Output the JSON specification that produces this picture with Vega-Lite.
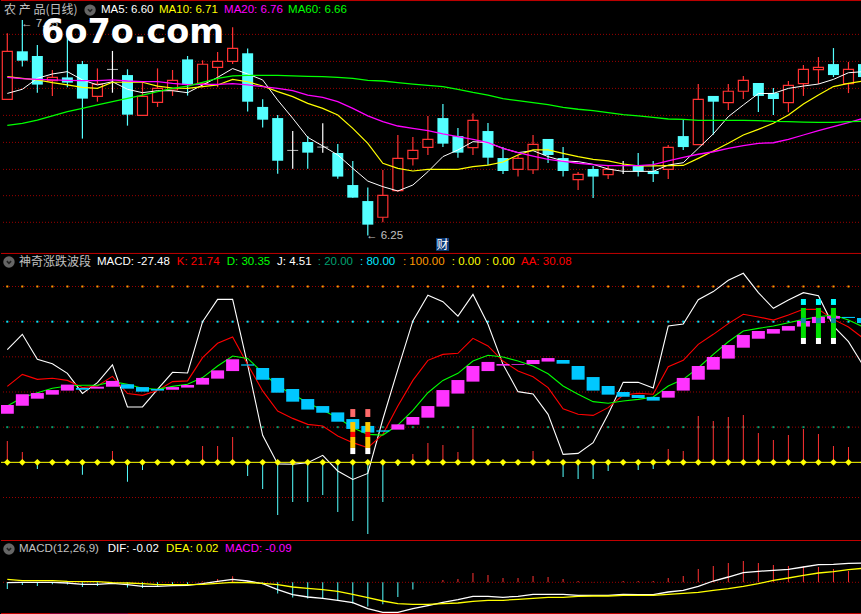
{"$schema":"https://vega.github.io/schema/vega-lite/v6.json","background":"#000000","padding":0,"spacing":0,"autosize":{"type":"pad"},
"resolve":{"scale":{"fill":"independent","stroke":"independent"}},
"config":{"view":{"stroke":null},"axis":{"disable":true},"legend":{"disable":true},"text":{"font":"Liberation Sans","fontSize":11.5,"align":"left","baseline":"middle"}},
"datasets":{
"days":[
{"i":0,"t":"up","o":7.008,"h":7.375,"l":7.008,"c":7.275,"m5":7.041,"m10":7.134,"m20":7.130,"m60":6.864,"J":64.1,"K":43.2,"D":32.0,"a":27.7,"b":32.6,"s":12.1,"dif":-0.003,"dea":0.03,"macd":-0.067},
{"i":1,"t":"down","o":7.275,"h":7.449,"l":7.190,"c":7.223,"m5":7.064,"m10":7.125,"m20":7.123,"m60":6.875,"J":72.8,"K":50.0,"D":36.8,"a":32.2,"b":38.7,"s":5.9,"dif":0,"dea":0.017,"macd":-0.027},
{"i":2,"t":"down","o":7.249,"h":7.310,"l":7.045,"c":7.090,"m5":7.125,"m10":7.116,"m20":7.119,"m60":6.893,"J":58.6,"K":47.2,"D":39.6,"a":36.2,"b":39.4,"s":-3.8,"dif":0,"dea":0.017,"macd":-0.037},
{"i":3,"t":"up","o":7.112,"h":7.171,"l":7.027,"c":7.130,"m5":7.149,"m10":7.101,"m20":7.116,"m60":6.916,"J":56.1,"K":47.8,"D":42.1,"a":38.5,"b":41.1,"s":0,"dif":0,"dea":0.017,"macd":-0.02},
{"i":4,"t":"down","o":7.130,"h":7.380,"l":7.075,"c":7.101,"m5":7.162,"m10":7.088,"m20":7.114,"m60":6.940,"J":50.6,"K":46.6,"D":43.4,"a":40.8,"b":44.2,"s":0,"dif":-0.007,"dea":0.01,"macd":-0.023},
{"i":5,"t":"down","o":7.204,"h":7.221,"l":6.790,"c":7.012,"m5":7.116,"m10":7.075,"m20":7.112,"m60":6.958,"J":39.2,"K":42.5,"D":43.8,"a":42.3,"b":41.3,"s":-7.0,"dif":-0.02,"dea":0.007,"macd":-0.047},
{"i":6,"t":"up","o":7.025,"h":7.180,"l":6.995,"c":7.093,"m5":7.088,"m10":7.069,"m20":7.112,"m60":6.977,"J":45.3,"K":43.4,"D":43.8,"a":41.9,"b":43.0,"s":0,"dif":-0.02,"dea":0.007,"macd":-0.037},
{"i":7,"t":"doji","o":7.177,"h":7.277,"l":7.045,"c":7.173,"m5":7.106,"m10":7.103,"m20":7.116,"m60":6.995,"J":55.4,"K":48.9,"D":45.9,"a":43.0,"b":46.3,"s":6.4,"dif":-0.01,"dea":-0.003,"macd":0},
{"i":8,"t":"down","o":7.143,"h":7.175,"l":6.862,"c":6.923,"m5":7.064,"m10":7.103,"m20":7.110,"m60":7.014,"J":31.5,"K":39.1,"D":44.4,"a":44.4,"b":41.9,"s":-11.0,"dif":-0.023,"dea":-0.007,"macd":-0.053},
{"i":9,"t":"up","o":6.919,"h":7.101,"l":6.919,"c":7.025,"m5":7.045,"m10":7.103,"m20":7.106,"m60":7.032,"J":31.5,"K":38.1,"D":42.1,"a":42.8,"b":40.2,"s":-4.4,"dif":-0.04,"dea":-0.013,"macd":-0.057},
{"i":10,"t":"up","o":6.991,"h":7.180,"l":6.966,"c":7.069,"m5":7.056,"m10":7.082,"m20":7.106,"m60":7.051,"J":41.5,"K":40.9,"D":41.5,"a":41.7,"b":40.8,"s":0,"dif":-0.04,"dea":-0.023,"macd":-0.04},
{"i":11,"t":"up","o":7.060,"h":7.171,"l":7.027,"c":7.114,"m5":7.056,"m10":7.071,"m20":7.097,"m60":7.069,"J":51.2,"K":45.9,"D":43.2,"a":41.3,"b":42.8,"s":0,"dif":-0.033,"dea":-0.023,"macd":-0.02},
{"i":12,"t":"down","o":7.230,"h":7.249,"l":7.029,"c":7.090,"m5":7.045,"m10":7.069,"m20":7.090,"m60":7.082,"J":50.8,"K":46.3,"D":44.4,"a":42.5,"b":44.0,"s":0,"dif":-0.03,"dea":-0.023,"macd":-0.02},
{"i":13,"t":"up","o":7.097,"h":7.225,"l":7.075,"c":7.203,"m5":7.088,"m10":7.079,"m20":7.091,"m60":7.103,"J":80.0,"K":59.5,"D":48.2,"a":44.2,"b":48.0,"s":9.3,"dif":-0.013,"dea":-0.02,"macd":0.007},
{"i":14,"t":"up","o":7.186,"h":7.271,"l":7.075,"c":7.219,"m5":7.130,"m10":7.088,"m20":7.091,"m60":7.125,"J":92.7,"K":67.7,"D":54.8,"a":47.6,"b":52.3,"s":9.3,"dif":0.01,"dea":-0.01,"macd":0.033},
{"i":15,"t":"up","o":7.219,"h":7.408,"l":7.204,"c":7.291,"m5":7.179,"m10":7.119,"m20":7.095,"m60":7.138,"J":92.7,"K":71.3,"D":60.5,"a":51.9,"b":58.6,"s":14.4,"dif":0.03,"dea":0,"macd":0.06},
{"i":16,"t":"down","o":7.264,"h":7.291,"l":6.940,"c":6.995,"m5":7.149,"m10":7.106,"m20":7.088,"m60":7.141,"J":55.4,"K":55.7,"D":59.1,"a":55.7,"b":55.0,"s":-7.8,"dif":0.013,"dea":-0.003,"macd":0.013},
{"i":17,"t":"down","o":6.966,"h":7.008,"l":6.851,"c":6.895,"m5":7.116,"m10":7.082,"m20":7.079,"m60":7.141,"J":15.4,"K":40.6,"D":51.0,"a":53.6,"b":47.0,"s":-15.2,"dif":-0.013,"dea":-0.01,"macd":-0.02},
{"i":18,"t":"down","o":6.904,"h":6.921,"l":6.595,"c":6.667,"m5":7.004,"m10":7.051,"m20":7.069,"m60":7.141,"J":-0.9,"K":29.2,"D":43.4,"a":48.0,"b":39.6,"s":-30.0,"dif":-0.073,"dea":-0.023,"macd":-0.113},
{"i":19,"t":"doji","o":6.727,"h":6.832,"l":6.623,"c":6.723,"m5":6.903,"m10":7.023,"m20":7.056,"m60":7.138,"J":-1.1,"K":25.0,"D":38.7,"a":41.7,"b":34.5,"s":-22.6,"dif":-0.123,"dea":-0.047,"macd":-0.153},
{"i":20,"t":"down","o":6.771,"h":6.804,"l":6.623,"c":6.712,"m5":6.797,"m10":6.986,"m20":7.032,"m60":7.136,"J":-0.2,"K":21.6,"D":33.9,"a":36.0,"b":30.0,"s":-22.6,"dif":-0.147,"dea":-0.06,"macd":-0.163},
{"i":21,"t":"doji","o":6.745,"h":6.875,"l":6.712,"c":6.741,"m5":6.749,"m10":6.958,"m20":7.019,"m60":7.134,"J":4.0,"K":20.7,"D":29.6,"a":32.0,"b":28.2,"s":-18.6,"dif":-0.16,"dea":-0.073,"macd":-0.163},
{"i":22,"t":"down","o":6.710,"h":6.760,"l":6.567,"c":6.579,"m5":6.699,"m10":6.921,"m20":6.995,"m60":7.130,"J":-4.9,"K":15.0,"D":25.4,"a":28.4,"b":23.1,"s":-28.2,"dif":-0.18,"dea":-0.09,"macd":-0.187},
{"i":23,"t":"down","o":6.532,"h":6.666,"l":6.462,"c":6.462,"m5":6.625,"m10":6.847,"m20":6.958,"m60":7.125,"J":-9.7,"K":11.2,"D":19.7,"a":24.6,"b":19.0,"s":-33.4,"dif":-0.203,"dea":-0.12,"macd":-0.213},
{"i":24,"t":"down","o":6.443,"h":6.519,"l":6.251,"c":6.312,"m5":6.554,"m10":6.764,"m20":6.916,"m60":7.114,"J":-6.3,"K":8.3,"D":15.9,"a":20.7,"b":16.9,"s":-40.8,"dif":-0.263,"dea":-0.153,"macd":-0.243},
{"i":25,"t":"up","o":6.353,"h":6.616,"l":6.325,"c":6.475,"m5":6.523,"m10":6.653,"m20":6.884,"m60":7.110,"J":24.5,"K":15.9,"D":15.5,"a":18.2,"b":17.4,"s":-22.6,"dif":-0.3,"dea":-0.187,"macd":-0.22},
{"i":26,"t":"up","o":6.501,"h":6.810,"l":6.495,"c":6.680,"m5":6.499,"m10":6.625,"m20":6.860,"m60":7.101,"J":52.9,"K":32.0,"D":21.2,"a":18.6,"b":21.6,"s":-2.1,"dif":-0.3,"dea":-0.213,"macd":-0.147},
{"i":27,"t":"up","o":6.679,"h":6.799,"l":6.640,"c":6.725,"m5":6.532,"m10":6.610,"m20":6.847,"m60":7.093,"J":80.4,"K":46.6,"D":29.6,"a":21.4,"b":25.8,"s":4.7,"dif":-0.263,"dea":-0.22,"macd":-0.073},
{"i":28,"t":"up","o":6.741,"h":6.916,"l":6.699,"c":6.786,"m5":6.606,"m10":6.619,"m20":6.834,"m60":7.086,"J":95.0,"K":58.0,"D":39.6,"a":25.4,"b":32.0,"s":11.0,"dif":-0.233,"dea":-0.22,"macd":0},
{"i":29,"t":"down","o":6.904,"h":6.982,"l":6.743,"c":6.762,"m5":6.690,"m10":6.619,"m20":6.816,"m60":7.079,"J":91.4,"K":61.4,"D":46.6,"a":31.7,"b":41.1,"s":9.9,"dif":-0.2,"dea":-0.213,"macd":0.023},
{"i":30,"t":"down","o":6.804,"h":6.849,"l":6.684,"c":6.712,"m5":6.727,"m10":6.619,"m20":6.801,"m60":7.064,"J":83.2,"K":62.0,"D":50.6,"a":39.1,"b":46.8,"s":5.9,"dif":-0.173,"dea":-0.207,"macd":0.033},
{"i":31,"t":"up","o":6.740,"h":6.930,"l":6.699,"c":6.891,"m5":6.773,"m10":6.634,"m20":6.786,"m60":7.047,"J":95.5,"K":70.5,"D":57.6,"a":45.9,"b":54.8,"s":19.0,"dif":-0.14,"dea":-0.19,"macd":0.093},
{"i":32,"t":"down","o":6.832,"h":6.877,"l":6.643,"c":6.684,"m5":6.767,"m10":6.643,"m20":6.767,"m60":7.032,"J":78.5,"K":66.2,"D":60.9,"a":51.9,"b":57.1,"s":1.9,"dif":-0.14,"dea":-0.18,"macd":0.073},
{"i":33,"t":"down","o":6.682,"h":6.743,"l":6.593,"c":6.610,"m5":6.736,"m10":6.660,"m20":6.736,"m60":7.012,"J":55.7,"K":57.6,"D":59.9,"a":55.0,"b":55.9,"s":-2.1,"dif":-0.15,"dea":-0.18,"macd":0.043},
{"i":34,"t":"up","o":6.619,"h":6.699,"l":6.579,"c":6.680,"m5":6.712,"m10":6.699,"m20":6.712,"m60":7.001,"J":40.2,"K":51.9,"D":57.6,"a":55.5,"b":55.9,"s":0,"dif":-0.14,"dea":-0.17,"macd":0.043},
{"i":35,"t":"up","o":6.617,"h":6.810,"l":6.593,"c":6.758,"m5":6.723,"m10":6.727,"m20":6.693,"m60":6.990,"J":38.9,"K":48.7,"D":54.8,"a":55.9,"b":58.2,"s":6.4,"dif":-0.12,"dea":-0.16,"macd":0.063},
{"i":36,"t":"down","o":6.788,"h":6.788,"l":6.654,"c":6.699,"m5":6.690,"m10":6.727,"m20":6.675,"m60":6.979,"J":27.3,"K":42.5,"D":50.4,"a":57.3,"b":59.3,"s":0,"dif":-0.12,"dea":-0.15,"macd":0.053},
{"i":37,"t":"down","o":6.682,"h":6.743,"l":6.579,"c":6.610,"m5":6.666,"m10":6.708,"m20":6.664,"m60":6.964,"J":4.5,"K":30.5,"D":43.4,"a":58.2,"b":56.1,"s":-8.3,"dif":-0.12,"dea":-0.15,"macd":0.033},
{"i":38,"t":"up","o":6.562,"h":6.604,"l":6.504,"c":6.591,"m5":6.662,"m10":6.690,"m20":6.653,"m60":6.953,"J":5.1,"K":27.3,"D":38.7,"a":54.8,"b":47.0,"s":-9.5,"dif":-0.13,"dea":-0.14,"macd":0.013},
{"i":39,"t":"down","o":6.621,"h":6.638,"l":6.460,"c":6.579,"m5":6.647,"m10":6.675,"m20":6.645,"m60":6.945,"J":11.2,"K":26.7,"D":34.5,"a":48.5,"b":40.8,"s":-9.5,"dif":-0.13,"dea":-0.137,"macd":0.003},
{"i":40,"t":"up","o":6.590,"h":6.643,"l":6.566,"c":6.619,"m5":6.621,"m10":6.666,"m20":6.640,"m60":6.934,"J":27.3,"K":31.1,"D":33.6,"a":43.4,"b":38.5,"s":-4.9,"dif":-0.13,"dea":-0.137,"macd":0},
{"i":41,"t":"doji","o":6.641,"h":6.666,"l":6.593,"c":6.638,"m5":6.608,"m10":6.649,"m20":6.640,"m60":6.923,"J":45.5,"K":38.3,"D":34.9,"a":40.0,"b":37.3,"s":0,"dif":-0.12,"dea":-0.13,"macd":0.013},
{"i":42,"t":"down","o":6.640,"h":6.710,"l":6.579,"c":6.608,"m5":6.608,"m10":6.638,"m20":6.640,"m60":6.916,"J":45.5,"K":39.2,"D":35.8,"a":38.3,"b":36.6,"s":-4.4,"dif":-0.123,"dea":-0.13,"macd":0.013},
{"i":43,"t":"down","o":6.610,"h":6.666,"l":6.549,"c":6.593,"m5":6.608,"m10":6.638,"m20":6.645,"m60":6.908,"J":42.3,"K":38.7,"D":37.2,"a":37.2,"b":35.1,"s":-3.8,"dif":-0.123,"dea":-0.13,"macd":0.013},
{"i":44,"t":"up","o":6.619,"h":6.754,"l":6.566,"c":6.741,"m5":6.643,"m10":6.640,"m20":6.666,"m60":6.899,"J":77.5,"K":54.4,"D":43.4,"a":36.8,"b":40.6,"s":7.6,"dif":-0.097,"dea":-0.12,"macd":0.043},
{"i":45,"t":"down","o":6.804,"h":6.897,"l":6.727,"c":6.743,"m5":6.656,"m10":6.641,"m20":6.686,"m60":6.897,"J":78.7,"K":58.0,"D":47.2,"a":40.8,"b":48.0,"s":6.4,"dif":-0.08,"dea":-0.11,"macd":0.063},
{"i":46,"t":"up","o":6.756,"h":7.093,"l":6.756,"c":7.008,"m5":6.736,"m10":6.680,"m20":6.703,"m60":6.891,"J":92.5,"K":67.1,"D":53.8,"a":47.0,"b":54.8,"s":26.4,"dif":-0.04,"dea":-0.1,"macd":0.133},
{"i":47,"t":"down","o":7.027,"h":7.027,"l":6.812,"c":6.995,"m5":6.816,"m10":6.721,"m20":6.717,"m60":6.891,"J":97.1,"K":72.8,"D":61.4,"a":52.7,"b":59.9,"s":23.5,"dif":0.013,"dea":-0.08,"macd":0.163},
{"i":48,"t":"up","o":6.990,"h":7.093,"l":6.949,"c":7.053,"m5":6.912,"m10":6.764,"m20":6.736,"m60":6.891,"J":103.5,"K":78.9,"D":68.6,"a":59.0,"b":66.7,"s":25.8,"dif":0.053,"dea":-0.063,"macd":0.193},
{"i":49,"t":"up","o":7.053,"h":7.138,"l":7.010,"c":7.114,"m5":6.977,"m10":6.810,"m20":6.751,"m60":6.891,"J":107.5,"K":84.2,"D":74.7,"a":65.2,"b":72.4,"s":26.9,"dif":0.097,"dea":-0.04,"macd":0.213},
{"i":50,"t":"down","o":7.099,"h":7.099,"l":6.938,"c":7.027,"m5":7.040,"m10":6.841,"m20":6.764,"m60":6.890,"J":96.5,"K":82.7,"D":76.2,"a":70.3,"b":74.7,"s":16.7,"dif":0.11,"dea":-0.013,"macd":0.193},
{"i":51,"t":"down","o":7.043,"h":7.071,"l":6.921,"c":7.010,"m5":7.041,"m10":6.875,"m20":6.767,"m60":6.886,"J":87.6,"K":80.9,"D":77.5,"a":73.2,"b":75.8,"s":12.7,"dif":0.12,"dea":0.02,"macd":0.173},
{"i":52,"t":"up","o":6.990,"h":7.110,"l":6.936,"c":7.086,"m5":7.069,"m10":6.921,"m20":6.786,"m60":6.884,"J":92.3,"K":83.8,"D":79.4,"a":74.9,"b":77.5,"s":15.5,"dif":0.13,"dea":0.043,"macd":0.163},
{"i":53,"t":"up","o":7.095,"h":7.199,"l":7.027,"c":7.175,"m5":7.082,"m10":6.982,"m20":6.810,"m60":6.882,"J":96.5,"K":87.0,"D":81.3,"a":77.2,"b":80.4,"s":19.0,"dif":0.153,"dea":0.07,"macd":0.16},
{"i":54,"t":"up","o":7.173,"h":7.243,"l":7.093,"c":7.186,"m5":7.093,"m10":7.032,"m20":6.834,"m60":6.880,"J":94.8,"K":87.0,"D":82.8,"a":79.2,"b":82.7,"s":16.1,"dif":0.177,"dea":0.093,"macd":0.153},
{"i":55,"t":"down","o":7.204,"h":7.293,"l":7.132,"c":7.143,"m5":7.119,"m10":7.079,"m20":6.856,"m60":6.880,"J":77.5,"K":81.3,"D":83.8,"a":81.7,"b":83.2,"s":9.3,"dif":0.18,"dea":0.107,"macd":0.133},
{"i":56,"t":"up","o":7.095,"h":7.216,"l":7.043,"c":7.175,"m5":7.156,"m10":7.097,"m20":6.879,"m60":6.884,"J":68.6,"K":77.0,"D":80.9,"a":82.7,"b":82.1,"s":8.7,"dif":0.19,"dea":0.127,"macd":0.113},
{"i":57,"t":"down","o":7.204,"h":7.204,"l":7.132,"c":7.132,"m5":7.162,"m10":7.110,"m20":6.903,"m60":6.886,"J":54.8,"K":70.5,"D":77.0,"a":82.1,"b":79.2,"s":0,"dif":0.193,"dea":0.14,"macd":0}
],
"blocks":[
{"i":23,"kind":"salmon","y0":30.3,"y1":25.8},{"i":23,"kind":"amber","y0":22.9,"y1":17.3},{"i":23,"kind":"red","y0":17.3,"y1":14.4},{"i":23,"kind":"amber","y0":14.4,"y1":8.2},{"i":23,"kind":"white","y0":8.2,"y1":4.7},
{"i":24,"kind":"salmon","y0":30.3,"y1":25.8},{"i":24,"kind":"amber","y0":22.9,"y1":17.3},{"i":24,"kind":"red","y0":17.3,"y1":14.4},{"i":24,"kind":"amber","y0":14.4,"y1":8.2},{"i":24,"kind":"white","y0":8.2,"y1":4.7},
{"i":53,"kind":"cyan","y0":92.9,"y1":89.5},{"i":53,"kind":"green","y0":87.8,"y1":82.1},{"i":53,"kind":"teal","y0":82.1,"y1":79.2},{"i":53,"kind":"green","y0":79.2,"y1":70.7},{"i":53,"kind":"white","y0":70.7,"y1":67.3},
{"i":54,"kind":"cyan","y0":92.9,"y1":89.5},{"i":54,"kind":"green","y0":87.8,"y1":82.1},{"i":54,"kind":"teal","y0":82.1,"y1":79.2},{"i":54,"kind":"green","y0":79.2,"y1":70.7},{"i":54,"kind":"white","y0":70.7,"y1":67.3},
{"i":55,"kind":"cyan","y0":92.9,"y1":89.5},{"i":55,"kind":"green","y0":87.8,"y1":82.1},{"i":55,"kind":"teal","y0":82.1,"y1":79.2},{"i":55,"kind":"green","y0":79.2,"y1":70.7},{"i":55,"kind":"white","y0":70.7,"y1":67.3}
],
"ticks":[{"i":2.84,"t0":-0.312,"t1":-0.337},{"i":8.04,"t0":-0.312,"t1":-0.337},{"i":13.9,"t0":-0.312,"t1":-0.337},{"i":18.16,"t0":-0.312,"t1":-0.337},{"i":22.42,"t0":-0.312,"t1":-0.337},{"i":26.68,"t0":-0.312,"t1":-0.337},{"i":30.94,"t0":-0.312,"t1":-0.337},{"i":36.46,"t0":-0.312,"t1":-0.337},{"i":41.9,"t0":-0.312,"t1":-0.337},{"i":47.44,"t0":-0.312,"t1":-0.337},{"i":52.9,"t0":-0.312,"t1":-0.337}]
},
"vconcat":[
{"width":861,"height":252,
"layer":[
{"data":{"values":[{"p":7.369},{"p":7.219},{"p":7.069},{"p":6.919},{"p":6.769},{"p":6.619},{"p":6.473},{"p":6.325}]},"mark":{"type":"rule","stroke":"#9a0000","strokeDash":[1,2],"strokeWidth":1},"encoding":{"y":{"field":"p","type":"quantitative","scale":{"domain":[6.16,7.56],"nice":false,"zero":false}}}},
{"data":{"values":[{"p":7.557}]},"mark":{"type":"rule","stroke":"#c00000","strokeWidth":1},"encoding":{"y":{"field":"p","type":"quantitative"}}},
{"encoding":{"x":{"field":"i","type":"quantitative","scale":{"domain":[-0.42,56.9],"nice":false,"zero":false,"padding":0}}},
"layer":[
{"data":{"name":"days"},"mark":{"type":"rule","strokeWidth":1.2,"clip":true},"encoding":{"y":{"field":"h","type":"quantitative"},"y2":{"field":"l"},"stroke":{"field":"t","type":"nominal","scale":{"domain":["up","down","doji"],"range":["#ff3232","#54ffff","#ffffff"]}}}},
{"data":{"name":"days"},"transform":[{"filter":"datum.t==='up'"}],"mark":{"type":"bar","size":10,"fill":"#000000","stroke":"#ff3232","strokeWidth":1.2,"clip":true},"encoding":{"y":{"field":"o","type":"quantitative"},"y2":{"field":"c"}}},
{"data":{"name":"days"},"transform":[{"filter":"datum.t==='down'"}],"mark":{"type":"bar","size":11,"fill":"#54ffff","clip":true},"encoding":{"y":{"field":"o","type":"quantitative"},"y2":{"field":"c"}}},
{"data":{"name":"days"},"transform":[{"filter":"datum.t==='doji'"}],"mark":{"type":"bar","size":11,"fill":"#ffffff","clip":true},"encoding":{"y":{"field":"o","type":"quantitative"},"y2":{"field":"c"}}},
{"data":{"name":"days"},"mark":{"type":"line","stroke":"#ffffff","strokeWidth":1,"clip":true},"encoding":{"y":{"field":"m5","type":"quantitative"}}},
{"data":{"name":"days"},"mark":{"type":"line","stroke":"#ffff00","strokeWidth":1.2,"clip":true},"encoding":{"y":{"field":"m10","type":"quantitative"}}},
{"data":{"name":"days"},"mark":{"type":"line","stroke":"#ff00ff","strokeWidth":1.3,"clip":true},"encoding":{"y":{"field":"m20","type":"quantitative"}}},
{"data":{"name":"days"},"mark":{"type":"line","stroke":"#00ff00","strokeWidth":1.3,"clip":true},"encoding":{"y":{"field":"m60","type":"quantitative"}}},
{"data":{"values":[{"x":0.91,"p":7.427,"s":"← 7.45"},{"x":23.88,"p":6.249,"s":"← 6.25"}]},"mark":{"type":"text","fill":"#c0c0c0","clip":true},"encoding":{"x":{"field":"x","type":"quantitative"},"y":{"field":"p","type":"quantitative"},"text":{"field":"s"}}},
{"data":{"values":[{"x":2.25,"p":7.375,"s":"6o7o.com"}]},"mark":{"type":"text","font":"DejaVu Sans","fontWeight":"bold","fontSize":33.5,"fill":"#ffffff","clip":true},"encoding":{"x":{"field":"x","type":"quantitative"},"y":{"field":"p","type":"quantitative"},"text":{"field":"s"}}},
{"data":{"values":[{"x0":28.54,"x1":29.41,"p0":6.238,"p1":6.166}]},"mark":{"type":"rect","fill":"#0a3a78","clip":true},"encoding":{"x":{"field":"x0","type":"quantitative"},"x2":{"field":"x1"},"y":{"field":"p0","type":"quantitative"},"y2":{"field":"p1"}}},
{"data":{"values":[{"x":28.98,"p":6.199,"s":"财"}]},"mark":{"type":"text","font":"Noto Sans CJK SC","fontSize":12,"align":"center","fill":"#ffffff","clip":true},"encoding":{"x":{"field":"x","type":"quantitative"},"y":{"field":"p","type":"quantitative"},"text":{"field":"s"}}},
{"data":{"values":[{"x":5.51,"p":7.504}]},"mark":{"type":"point","shape":"circle","filled":true,"size":130,"fill":"#666666","opacity":1,"clip":true},"encoding":{"x":{"field":"x","type":"quantitative"},"y":{"field":"p","type":"quantitative"}}},
{"data":{"values":[{"x":5.51,"p":7.504}]},"mark":{"type":"point","shape":"M-0.6,-0.25L0,0.35L0.6,-0.25","filled":false,"size":50,"stroke":"#222222","strokeWidth":1.6,"opacity":1,"clip":true},"encoding":{"x":{"field":"x","type":"quantitative"},"y":{"field":"p","type":"quantitative"}}},
{"data":{"values":[{"x":-0.22,"p":7.504,"s":"农 产 品(日线)"}]},"mark":{"type":"text","font":"Noto Sans CJK SC","fontSize":12,"fill":"#c0c0c0","clip":true},"encoding":{"x":{"field":"x","type":"quantitative"},"y":{"field":"p","type":"quantitative"},"text":{"field":"s"}}},
{"data":{"values":[{"x":6.24,"p":7.504,"s":"MA5: 6.60","k":"MA5"},{"x":10.1,"p":7.504,"s":"MA10: 6.71","k":"MA10"},{"x":14.43,"p":7.504,"s":"MA20: 6.76","k":"MA20"},{"x":18.69,"p":7.504,"s":"MA60: 6.66","k":"MA60"}]},"mark":{"type":"text","clip":true},"encoding":{"x":{"field":"x","type":"quantitative"},"y":{"field":"p","type":"quantitative"},"text":{"field":"s"},"fill":{"field":"k","type":"nominal","scale":{"domain":["MA5","MA10","MA20","MA60"],"range":["#ffffff","#ffff00","#ff00ff","#00ff00"]}}}}
]}
]},
{"width":861,"height":286,
"layer":[
{"data":{"values":[{"v":100},{"v":80},{"v":60},{"v":40},{"v":20},{"v":-20}]},"mark":{"type":"rule","stroke":"#9a0000","strokeDash":[1,2],"strokeWidth":1},"encoding":{"y":{"field":"v","type":"quantitative","scale":{"domain":[-43.6,119.05],"nice":false,"zero":false}}}},
{"data":{"values":[{"v":118.8}]},"mark":{"type":"rule","stroke":"#c00000","strokeWidth":1},"encoding":{"y":{"field":"v","type":"quantitative"}}},
{"encoding":{"x":{"field":"i","type":"quantitative","scale":{"domain":[-0.42,56.9],"nice":false,"zero":false,"padding":0}}},
"layer":[
{"data":{"name":"days"},"mark":{"type":"point","shape":"square","filled":true,"size":4,"fill":"#ff9900","opacity":1,"clip":true},"encoding":{"y":{"datum":100}}},
{"data":{"name":"days"},"mark":{"type":"point","shape":"square","filled":true,"size":4,"fill":"#00e8ff","opacity":1,"clip":true},"encoding":{"y":{"datum":80}}},
{"data":{"name":"days"},"mark":{"type":"point","shape":"square","filled":true,"size":4,"fill":"#00a070","opacity":1,"clip":true},"encoding":{"y":{"datum":20}}},
{"data":{"name":"days"},"mark":{"type":"bar","orient":"vertical","size":1,"clip":true},"encoding":{"y":{"field":"s","type":"quantitative","stack":null},"fill":{"condition":{"test":"datum.s>=0","value":"#ff3232"},"value":"#54ffff"}}},
{"data":{"name":"days"},"mark":{"type":"line","stroke":"#ffffff","strokeWidth":1.1,"clip":true},"encoding":{"y":{"field":"J","type":"quantitative"}}},
{"data":{"name":"days"},"mark":{"type":"line","stroke":"#ff0000","strokeWidth":1.1,"clip":true},"encoding":{"y":{"field":"K","type":"quantitative"}}},
{"data":{"name":"days"},"mark":{"type":"line","stroke":"#00ff00","strokeWidth":1.1,"clip":true},"encoding":{"y":{"field":"D","type":"quantitative"}}},
{"data":{"name":"days"},"mark":{"type":"bar","size":13,"clip":true},"encoding":{"y":{"field":"a","type":"quantitative"},"y2":{"field":"b"},"fill":{"condition":{"test":"datum.b>datum.a","value":"#ff33ff"},"value":"#00c8ff"}}},
{"data":{"name":"blocks"},"mark":{"type":"bar","size":5,"clip":true},"encoding":{"y":{"field":"y0","type":"quantitative"},"y2":{"field":"y1"},"fill":{"field":"kind","type":"nominal","scale":{"domain":["salmon","amber","red","white","cyan","green","teal","MACD","K","D","J","L20","L80","L100","L0","AA"],"range":["#ff6a6a","#ffc800","#ff0000","#ffffff","#00ffff","#00e000","#108fa0","#ffffff","#ff0000","#00ff00","#ffffff","#00a070","#00e8ff","#ff9900","#ffff00","#ff0000"]}}}}
]},
{"data":{"values":[{"v":0}]},"mark":{"type":"rule","stroke":"#ffff00","strokeWidth":1},"encoding":{"y":{"field":"v","type":"quantitative"}}},
{"encoding":{"x":{"field":"i","type":"quantitative"}},
"layer":[
{"data":{"name":"days"},"mark":{"type":"point","shape":"diamond","filled":true,"size":45,"fill":"#ffff00","opacity":1,"clip":true},"encoding":{"y":{"datum":0}}},
{"data":{"values":[{"x":0.11,"v":113.9}]},"mark":{"type":"point","shape":"circle","filled":true,"size":130,"fill":"#666666","opacity":1,"clip":true},"encoding":{"x":{"field":"x","type":"quantitative"},"y":{"field":"v","type":"quantitative"}}},
{"data":{"values":[{"x":0.11,"v":113.9}]},"mark":{"type":"point","shape":"M-0.6,-0.25L0,0.35L0.6,-0.25","filled":false,"size":50,"stroke":"#222222","strokeWidth":1.6,"opacity":1,"clip":true},"encoding":{"x":{"field":"x","type":"quantitative"},"y":{"field":"v","type":"quantitative"}}},
{"data":{"values":[{"x":0.78,"v":113.9,"s":"神奇涨跌波段"}]},"mark":{"type":"text","font":"Noto Sans CJK SC","fontSize":12,"fill":"#c0c0c0","clip":true},"encoding":{"x":{"field":"x","type":"quantitative"},"y":{"field":"v","type":"quantitative"},"text":{"field":"s"}}},
{"data":{"values":[{"x":5.97,"v":113.9,"s":"MACD: -27.48","k":"MACD"},{"x":11.28,"v":113.9,"s":"K: 21.74","k":"K"},{"x":14.61,"v":113.9,"s":"D: 30.35","k":"D"},{"x":17.96,"v":113.9,"s":"J: 4.51","k":"J"},{"x":20.67,"v":113.9,"s":": 20.00","k":"L20"},{"x":23.48,"v":113.9,"s":": 80.00","k":"L80"},{"x":26.34,"v":113.9,"s":": 100.00","k":"L100"},{"x":29.59,"v":113.9,"s":": 0.00","k":"L0"},{"x":31.87,"v":113.9,"s":": 0.00","k":"L0"},{"x":34.2,"v":113.9,"s":"AA: 30.08","k":"AA"}]},"mark":{"type":"text","clip":true},"encoding":{"x":{"field":"x","type":"quantitative"},"y":{"field":"v","type":"quantitative"},"text":{"field":"s"},"fill":{"field":"k","type":"nominal","scale":{"domain":["salmon","amber","red","white","cyan","green","teal","MACD","K","D","J","L20","L80","L100","L0","AA"],"range":["#ff6a6a","#ffc800","#ff0000","#ffffff","#00ffff","#00e000","#108fa0","#ffffff","#ff0000","#00ff00","#ffffff","#00a070","#00e8ff","#ff9900","#ffff00","#ff0000"]}}}}
]}
]},
{"width":861,"height":76,
"layer":[
{"data":{"values":[{"v":0}]},"mark":{"type":"rule","stroke":"#9a0000","strokeDash":[1,2],"strokeWidth":1},"encoding":{"y":{"field":"v","type":"quantitative","scale":{"domain":[-0.337,0.423],"nice":false,"zero":false}}}},
{"data":{"values":[{"v":0.418},{"v":-0.312}]},"mark":{"type":"rule","stroke":"#c00000","strokeWidth":1},"encoding":{"y":{"field":"v","type":"quantitative"}}},
{"encoding":{"x":{"field":"i","type":"quantitative","scale":{"domain":[-0.42,56.9],"nice":false,"zero":false,"padding":0}}},
"layer":[
{"data":{"name":"ticks"},"mark":{"type":"rule","stroke":"#c00000","strokeWidth":1,"clip":true},"encoding":{"y":{"field":"t0","type":"quantitative"},"y2":{"field":"t1"}}},
{"data":{"values":[{"x0":2.84,"x1":8.04,"v":-0.325}]},"mark":{"type":"rule","stroke":"#0000c8","strokeWidth":2,"clip":true},"encoding":{"x":{"field":"x0","type":"quantitative"},"x2":{"field":"x1"},"y":{"field":"v","type":"quantitative"}}},
{"data":{"name":"days"},"mark":{"type":"bar","orient":"vertical","size":1,"clip":true},"encoding":{"y":{"field":"macd","type":"quantitative","stack":null},"fill":{"condition":{"test":"datum.macd>=0","value":"#ff3232"},"value":"#54ffff"}}},
{"data":{"name":"days"},"mark":{"type":"line","stroke":"#ffffff","strokeWidth":1.3,"clip":true},"encoding":{"y":{"field":"dif","type":"quantitative"}}},
{"data":{"name":"days"},"mark":{"type":"line","stroke":"#ffff00","strokeWidth":1.3,"clip":true},"encoding":{"y":{"field":"dea","type":"quantitative"}}},
{"data":{"values":[{"x":0.11,"v":0.333}]},"mark":{"type":"point","shape":"circle","filled":true,"size":130,"fill":"#666666","opacity":1,"clip":true},"encoding":{"x":{"field":"x","type":"quantitative"},"y":{"field":"v","type":"quantitative"}}},
{"data":{"values":[{"x":0.11,"v":0.333}]},"mark":{"type":"point","shape":"M-0.6,-0.25L0,0.35L0.6,-0.25","filled":false,"size":50,"stroke":"#222222","strokeWidth":1.6,"opacity":1,"clip":true},"encoding":{"x":{"field":"x","type":"quantitative"},"y":{"field":"v","type":"quantitative"}}},
{"data":{"values":[{"x":0.78,"v":0.333,"s":"MACD(12,26,9)","k":"name"},{"x":6.68,"v":0.333,"s":"DIF: -0.02","k":"DIF"},{"x":10.57,"v":0.333,"s":"DEA: 0.02","k":"DEA"},{"x":14.5,"v":0.333,"s":"MACD: -0.09","k":"MACD"}]},"mark":{"type":"text","clip":true},"encoding":{"x":{"field":"x","type":"quantitative"},"y":{"field":"v","type":"quantitative"},"text":{"field":"s"},"fill":{"field":"k","type":"nominal","scale":{"domain":["name","DIF","DEA","MACD"],"range":["#c0c0c0","#ffffff","#ffff00","#ff00ff"]}}}}
]}
]}
]}
